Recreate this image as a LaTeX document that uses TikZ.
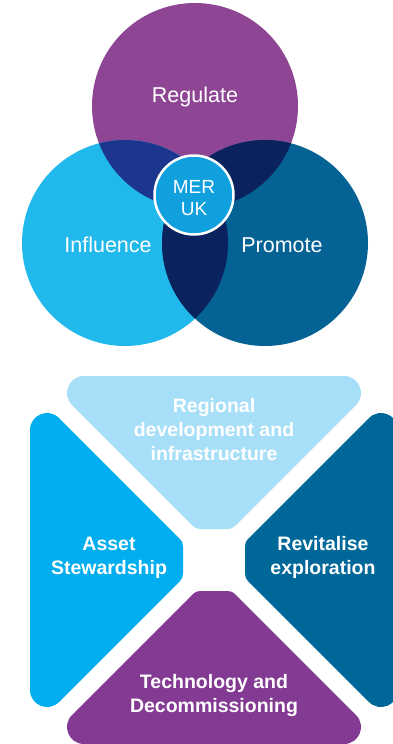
\documentclass[tikz,border=0pt]{standalone}
\usepackage{fontspec}
\setmainfont{Liberation Sans}
\definecolor{regc}{RGB}{142,70,148}
\definecolor{infc}{RGB}{33,185,236}
\definecolor{proc}{RGB}{5,98,148}
\definecolor{ricol}{RGB}{27,54,140}
\definecolor{rpcol}{RGB}{10,34,94}
\definecolor{ipcol}{RGB}{10,35,94}
\definecolor{mercol}{RGB}{16,160,222}
\definecolor{topc}{RGB}{168,223,248}
\definecolor{leftc}{RGB}{0,174,239}
\definecolor{rightc}{RGB}{0,103,153}
\definecolor{botc}{RGB}{131,58,146}
\tikzset{
  vlbl/.style={text=white, inner sep=0pt, anchor=base, font=\fontsize{21.5}{25}\selectfont},
  mlbl/.style={text=white, inner sep=0pt, anchor=base, font=\fontsize{19}{23}\selectfont},
  blbl/.style={text=white, inner sep=0pt, anchor=base, font=\fontsize{19.5}{24}\selectfont\bfseries},
  petal/.pic={
    \fill[#1] (-130,-184) -- (130,-184)
      .. controls (145.1,-184) and (152.7,-165.7) .. (142,-155)
      -- (20.9,-33.9) .. controls (19.0,-32.0) and (16.5,-31) .. (13.9,-31)
      -- (-13.9,-31) .. controls (-16.5,-31) and (-19.0,-32.0) .. (-20.9,-33.9)
      -- (-142,-155) .. controls (-152.7,-165.7) and (-145.1,-184) .. (-130,-184)
      -- cycle;
  }
}
\begin{document}
\begin{tikzpicture}[x=1pt,y=-1pt]
\useasboundingbox (0,0) rectangle (393,744);
\fill[white] (0,0) rectangle (393,744);
% Venn
\coordinate (cR) at (195,106);
\coordinate (cI) at (125,243);
\coordinate (cP) at (265,243);
\fill[regc] (cR) circle[radius=103pt];
\fill[infc] (cI) circle[radius=103pt];
\fill[proc] (cP) circle[radius=103pt];
\begin{scope}
  \clip (cR) circle[radius=103pt];
  \fill[ricol] (cI) circle[radius=103pt];
  \fill[rpcol] (cP) circle[radius=103pt];
\end{scope}
\begin{scope}
  \clip (cI) circle[radius=103pt];
  \fill[ipcol] (cP) circle[radius=103pt];
\end{scope}
\node[circle, fill=mercol, draw=white, line width=2.5pt, minimum size=79pt, inner sep=0pt] (mer) at (194,195) {};
\node[vlbl] (regulate) at (195,102) {Regulate};
\node[vlbl] (influence) at (108,252) {Influence};
\node[vlbl] (promote) at (282,252) {Promote};
\node[mlbl] (merl) at (194,193) {MER};
\node[mlbl] (ukl) at (194,215) {UK};
% Bottom cross
\pic at (214,560) {petal=topc};
\pic[rotate=90] at (214,560) {petal=leftc};
\pic[rotate=-90] at (214,560) {petal=rightc};
\pic[rotate=180] at (214,560) {petal=botc};
\node[blbl] (t1) at (214,412) {Regional};
\node[blbl] (t2) at (214,436) {development and};
\node[blbl] (t3) at (214,460) {infrastructure};
\node[blbl] (l1) at (109,550) {Asset};
\node[blbl] (l2) at (109,574) {Stewardship};
\node[blbl] (r1) at (323,550) {Revitalise};
\node[blbl] (r2) at (323,574) {exploration};
\node[blbl] (b1) at (214,688) {Technology and};
\node[blbl] (b2) at (214,712) {Decommissioning};
\end{tikzpicture}
\end{document}
